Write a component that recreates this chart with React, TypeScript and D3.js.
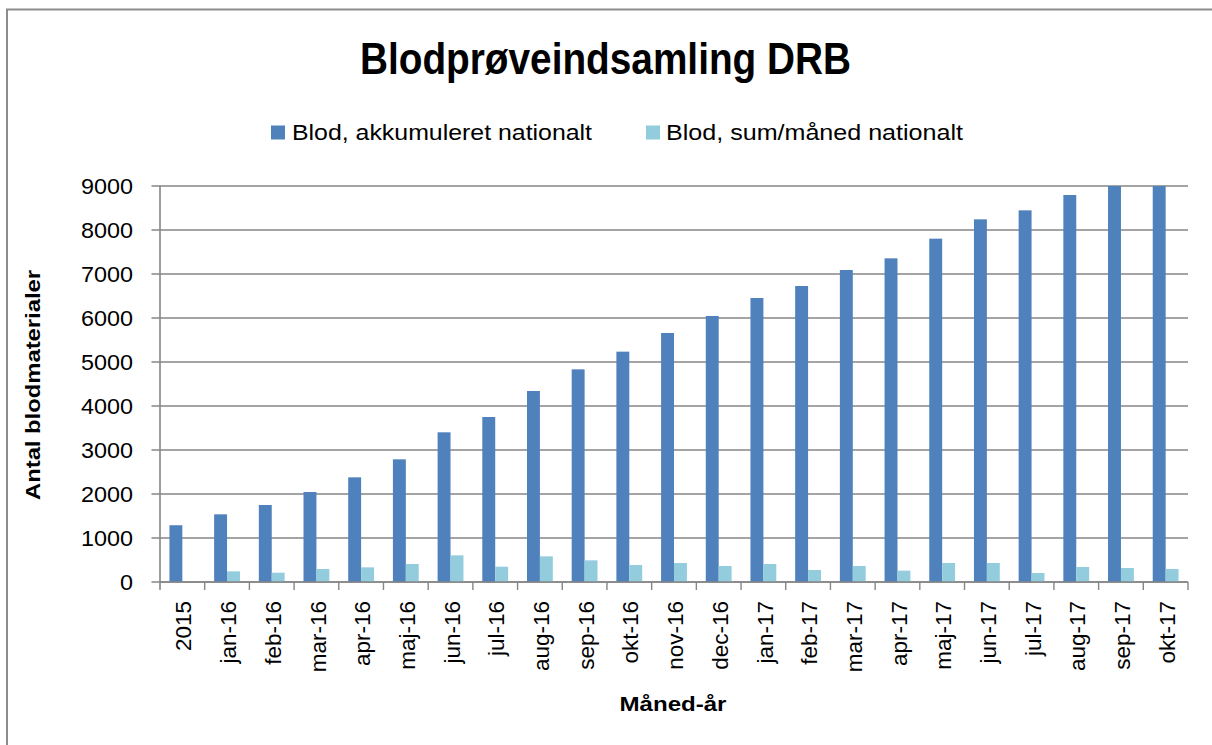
import React from "react";
import * as d3 from "d3";

const categories = [
  "2015", "jan-16", "feb-16", "mar-16", "apr-16", "maj-16", "jun-16", "jul-16",
  "aug-16", "sep-16", "okt-16", "nov-16", "dec-16", "jan-17", "feb-17", "mar-17",
  "apr-17", "maj-17", "jun-17", "jul-17", "aug-17", "sep-17", "okt-17",
];
const akkumuleret = [
  1290, 1538, 1750, 2045, 2379, 2788, 3402, 3750, 4341, 4833, 5235, 5659, 6045,
  6455, 6727, 7091, 7356, 7803, 8242, 8447, 8795, 9113, 9408,
];
const sumMaaned = [
  0, 242, 212, 295, 333, 409, 606, 348, 583, 492, 386, 432, 364, 409, 273, 364,
  258, 432, 432, 205, 341, 318, 295,
];
const yTicks = [0, 1000, 2000, 3000, 4000, 5000, 6000, 7000, 8000, 9000];
const seriesNames = ["Blod, akkumuleret nationalt", "Blod, sum/måned nationalt"];
const seriesColors = ["#4F81BD", "#93CDDD"];

const W = 1212;
const H = 745;
const left = 160;
const right = 1188;
const top = 186;
const bottom = 582;
const FONT = "'Liberation Sans', Arial, sans-serif";

export default function App() {
  const x0 = d3.scaleBand<string>().domain(categories).range([left, right]).paddingInner(0).paddingOuter(0);
  const x1 = d3
    .scaleBand<string>()
    .domain(["a", "b"])
    .range([0, x0.bandwidth()])
    .paddingInner(0)
    .paddingOuter(0.73);
  const y = d3.scaleLinear().domain([0, 9000]).range([bottom, top]).clamp(true);
  const series = [akkumuleret, sumMaaned];
  const keys = ["a", "b"];
  const grid = "#868686";

  return (
    <svg
      width={W}
      height={H}
      style={{ position: "absolute", left: 0, top: 0, background: "#fff" }}
      fontFamily={FONT}
    >
      <rect x={0} y={0} width={W} height={H} fill="#fff" />
      <path d={`M7,${H + 5} L7,9.5 L${W + 5},9.5`} fill="none" stroke="#8c8c8c" strokeWidth={2} />

      <text
        x={605.5}
        y={74}
        textAnchor="middle"
        fontSize={44}
        fontWeight="bold"
        textLength={491}
        lengthAdjust="spacingAndGlyphs"
        fill="#000"
      >
        Blodprøveindsamling DRB
      </text>

      <rect x={271} y={125.5} width={14} height={14} fill={seriesColors[0]} />
      <text x={292} y={139.5} fontSize={21.5} textLength={300} lengthAdjust="spacingAndGlyphs" fill="#000">
        {seriesNames[0]}
      </text>
      <rect x={646} y={125.5} width={14} height={14} fill={seriesColors[1]} />
      <text x={666} y={139.5} fontSize={21.5} textLength={297} lengthAdjust="spacingAndGlyphs" fill="#000">
        {seriesNames[1]}
      </text>

      {yTicks.map((t) => (
        <g key={t}>
          <line x1={151.5} x2={right} y1={y(t)} y2={y(t)} stroke={grid} strokeWidth={1.4} />
          <text x={133} y={y(t)} dy="0.36em" textAnchor="end" fontSize={22.5} textLength={String(t).length * 13} lengthAdjust="spacingAndGlyphs" fill="#000">
            {t}
          </text>
        </g>
      ))}

      {series.map((vals, si) =>
        categories.map((c, i) => {
          const v = vals[i];
          if (!v) return null;
          const bx = (x0(c) as number) + (x1(keys[si]) as number);
          return (
            <rect
              key={`${si}-${c}`}
              x={bx}
              y={y(v)}
              width={x1.bandwidth()}
              height={bottom - y(v)}
              fill={seriesColors[si]}
            />
          );
        })
      )}

      <line x1={left} x2={left} y1={top} y2={bottom + 8} stroke={grid} strokeWidth={1.6} />
      <line x1={left} x2={right} y1={bottom} y2={bottom} stroke={grid} strokeWidth={1.6} />
      {categories.map((c) => (
        <line
          key={`t${c}`}
          x1={(x0(c) as number) + x0.bandwidth()}
          x2={(x0(c) as number) + x0.bandwidth()}
          y1={bottom}
          y2={bottom + 8}
          stroke={grid}
          strokeWidth={1.4}
        />
      ))}
      {categories.map((c) => {
        const cx = (x0(c) as number) + x0.bandwidth() / 2;
        return (
          <text
            key={`l${c}`}
            transform={`translate(${cx + 1},601) rotate(-90)`}
            dy="0.36em"
            textAnchor="end"
            fontSize={22.5}
            fill="#000"
          >
            {c}
          </text>
        );
      })}

      <text
        transform="translate(40,385) rotate(-90)"
        textAnchor="middle"
        fontSize={21}
        fontWeight="bold"
        textLength={230}
        lengthAdjust="spacingAndGlyphs"
        fill="#000"
      >
        Antal blodmaterialer
      </text>
      <text
        x={673}
        y={711}
        textAnchor="middle"
        fontSize={21}
        fontWeight="bold"
        textLength={107}
        lengthAdjust="spacingAndGlyphs"
        fill="#000"
      >
        Måned-år
      </text>
    </svg>
  );
}
